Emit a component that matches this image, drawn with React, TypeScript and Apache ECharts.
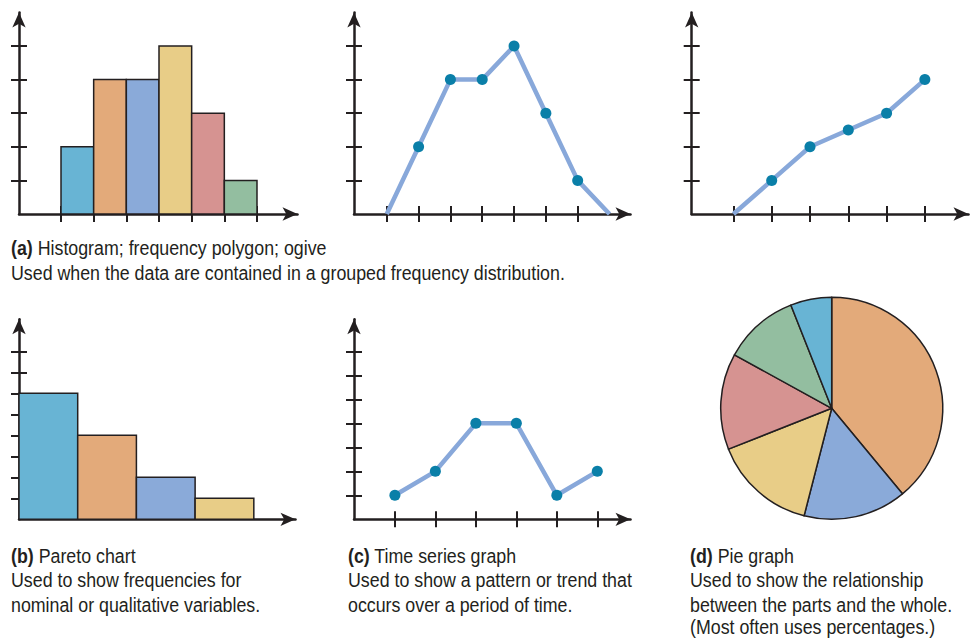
import React, { useEffect, useRef } from "react";
import * as echarts from "echarts";

const INK = "#231f20";
const LINE_BLUE = "#88a8da";
const DOT_BLUE = "#0a7fa8";
const C_LIGHTBLUE = "#68b4d4";
const C_ORANGE = "#e3aa7a";
const C_BLUE = "#8aaad9";
const C_YELLOW = "#e8cd87";
const C_PINK = "#d69391";
const C_GREEN = "#93bea0";

// (a) histogram, frequency polygon, ogive
const histogramFreq = [2, 4, 4, 5, 3, 1];
const histogramColors = [C_LIGHTBLUE, C_ORANGE, C_BLUE, C_YELLOW, C_PINK, C_GREEN];
const histogramXTicks = [0, 1, 2, 3, 4, 5, 6];
const polygonFreq = [0, 2, 4, 4, 5, 3, 1, 0];
const polygonXTicks = [0, 1, 2, 3, 4, 5, 6];
const ogiveCum = [0, 1, 2, 2.5, 3, 4];
const ogiveXTicks = [0, 1, 2, 3, 4, 5];
const topYTicks = [1, 2, 3, 4, 5];

// (b) pareto
const paretoFreq = [6, 4, 2, 1];
const paretoColors = [C_LIGHTBLUE, C_ORANGE, C_BLUE, C_YELLOW];
const paretoYTicks = [1, 2, 3, 4, 5, 6, 7, 8];

// (c) time series
const timeValues = [1, 2, 4, 4, 1, 2];
const timeXTicks = [0, 1, 2, 3, 4, 5];
const timeYTicks = [1, 2, 3, 4, 5, 6, 7];

// (d) pie
const pieShares = [39, 15, 15, 14, 11, 6];
const pieColors = [C_ORANGE, C_BLUE, C_YELLOW, C_PINK, C_GREEN, C_LIGHTBLUE];

const FONT = '"Liberation Sans", Arial, sans-serif';
const FONT_SIZE = 20;
const REF_LINE = "Used when the data are contained in a grouped frequency distribution.";
const REF_LINE_WIDTH = 554;

function condenseFactor(): number {
  try {
    const ctx = document.createElement("canvas").getContext("2d");
    if (!ctx) return 0.84;
    ctx.font = `${FONT_SIZE}px ${FONT}`;
    const w = ctx.measureText(REF_LINE).width;
    if (!w) return 0.84;
    return REF_LINE_WIDTH / w;
  } catch (e) {
    return 0.84;
  }
}

function axesFor(dim: "x" | "y", gridIndex: number, min: number, max: number, ticks: number[]) {
  const position = dim === "x" ? "bottom" : "left";
  const base: any = {
    type: "value",
    gridIndex,
    min,
    max,
    position,
    offset: 0,
    splitLine: { show: false },
    axisLabel: { show: false },
    silent: true,
  };
  const tickStyle = { color: INK, width: 2 };
  const main = {
    ...base,
    axisLine: {
      show: true,
      onZero: false,
      symbol: ["none", "arrow"],
      symbolSize: [10, 15],
      lineStyle: { color: INK, width: 2.5 },
    },
    axisTick: { show: ticks.length > 0, customValues: ticks, length: 8, lineStyle: tickStyle },
  };
  const inner = {
    ...base,
    axisLine: { show: false, onZero: false },
    axisTick: { show: ticks.length > 0, inside: true, customValues: ticks, length: 8, lineStyle: tickStyle },
  };
  return [main, inner];
}

function barSeries(axisIdx: number, values: number[], colors: string[]) {
  return {
    type: "custom",
    xAxisIndex: axisIdx,
    yAxisIndex: axisIdx,
    silent: true,
    clip: false,
    z: 3,
    data: values.map((v, i) => [i, i + 1, v]),
    encode: { x: [0, 1], y: 2 },
    renderItem: (params: any, api: any) => {
      const p0 = api.coord([api.value(0), api.value(2)]);
      const p1 = api.coord([api.value(1), 0]);
      return {
        type: "rect",
        shape: { x: p0[0], y: p0[1], width: p1[0] - p0[0], height: p1[1] - p0[1] },
        style: { fill: colors[params.dataIndex], stroke: INK, lineWidth: 1.5 },
      };
    },
  };
}

function lineSeries(axisIdx: number, values: number[], noDot: number[]) {
  return {
    type: "line",
    xAxisIndex: axisIdx,
    yAxisIndex: axisIdx,
    silent: true,
    clip: false,
    z: 3,
    showAllSymbol: true,
    symbol: "circle",
    symbolSize: 11,
    lineStyle: { color: LINE_BLUE, width: 4.5 },
    itemStyle: { color: DOT_BLUE },
    data: values.map((v, i) =>
      noDot.includes(i) ? { value: [i, v], symbol: "none" } : { value: [i, v] }
    ),
  };
}

function textLine(x: number, y: number, text: string, sx: number) {
  return {
    type: "text",
    x,
    y,
    scaleX: sx,
    silent: true,
    style: {
      text,
      fill: INK,
      fontSize: FONT_SIZE,
      fontFamily: FONT,
      verticalAlign: "middle",
      align: "left",
      rich: {
        b: { fontSize: FONT_SIZE, fontFamily: FONT, fontWeight: "bold", fill: INK },
      },
    },
  };
}

export default function App() {
  const ref = useRef<HTMLDivElement>(null);
  useEffect(() => {
    if (!ref.current) return;
    const chart = echarts.init(ref.current, null, { renderer: "svg" });
    const sx = condenseFactor();

    const grids = [
      { left: 19, top: 12.4, width: 278.5, height: 201.6 },
      { left: 354, top: 12.4, width: 276.5, height: 201.6 },
      { left: 691.7, top: 12.4, width: 276.8, height: 201.6 },
      { left: 19, top: 319.2, width: 276.5, height: 200.1 },
      { left: 354, top: 319.2, width: 276.5, height: 200.1 },
    ];

    const xAxis = [
      ...axesFor("x", 0, -1.286, 7.24, histogramXTicks),
      ...axesFor("x", 1, -1.03, 7.66, polygonXTicks),
      ...axesFor("x", 2, -1.09, 6.14, ogiveXTicks),
      ...axesFor("x", 3, 0, 4.71, []),
      ...axesFor("x", 4, -1.01, 5.82, timeXTicks),
    ];
    const yAxis = [
      ...axesFor("y", 0, 0, 6, topYTicks),
      ...axesFor("y", 1, 0, 6, topYTicks),
      ...axesFor("y", 2, 0, 6, topYTicks),
      ...axesFor("y", 3, 0, 9.53, paretoYTicks),
      ...axesFor("y", 4, 0, 8.34, timeYTicks),
    ];

    const option: any = {
      animation: false,
      backgroundColor: "#ffffff",
      grid: grids.map((g) => ({ ...g, containLabel: false })),
      xAxis,
      yAxis,
      series: [
        barSeries(0, histogramFreq, histogramColors),
        lineSeries(2, polygonFreq, [0, polygonFreq.length - 1]),
        lineSeries(4, ogiveCum, [0]),
        barSeries(6, paretoFreq, paretoColors),
        lineSeries(8, timeValues, []),
        {
          type: "pie",
          silent: true,
          center: [831.7, 408.3],
          radius: 111,
          startAngle: 90,
          clockwise: true,
          label: { show: false },
          labelLine: { show: false },
          itemStyle: { borderColor: INK, borderWidth: 1.5 },
          data: pieShares.map((v, i) => ({ value: v, itemStyle: { color: pieColors[i] } })),
        },
      ],
      graphic: [
        textLine(11, 248, "{b|(a)} Histogram; frequency polygon; ogive", sx),
        textLine(11, 273, REF_LINE, sx),
        textLine(11, 556, "{b|(b)} Pareto chart", sx),
        textLine(11, 580.5, "Used to show frequencies for", sx),
        textLine(11, 605, "nominal or qualitative variables.", sx),
        textLine(348, 556, "{b|(c)} Time series graph", sx),
        textLine(348, 580.5, "Used to show a pattern or trend that", sx),
        textLine(348, 605, "occurs over a period of time.", sx),
        textLine(690, 556, "{b|(d)} Pie graph", sx),
        textLine(690, 580.5, "Used to show the relationship", sx),
        textLine(690, 605, "between the parts and the whole.", sx),
        textLine(690, 627.5, "(Most often uses percentages.)", sx),
      ],
    };
    chart.setOption(option);
    return () => chart.dispose();
  }, []);
  return (
    <div
      ref={ref}
      style={{ position: "absolute", left: 0, top: 0, width: 978, height: 639, background: "#fff" }}
    />
  );
}
